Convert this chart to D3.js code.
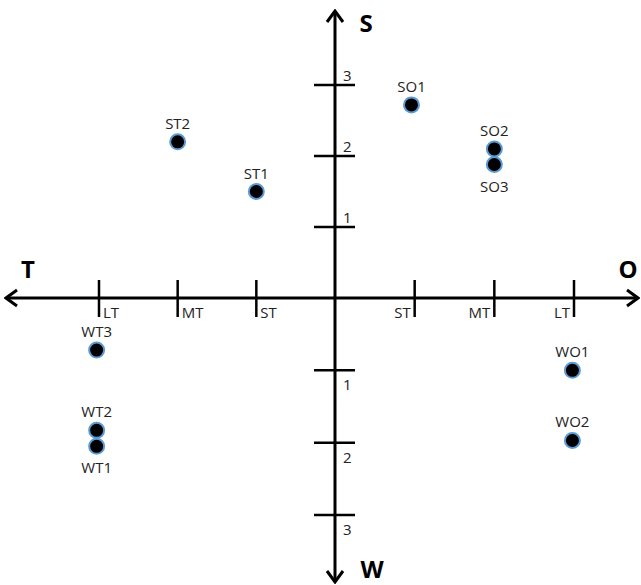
<!DOCTYPE html>
<html>
<head>
<meta charset="utf-8">
<script src="https://cdn.jsdelivr.net/npm/d3@7"></script>
<style>
  body { margin: 0; background: #fff; }
  svg text { font-family: "Open Sans", "Noto Sans", sans-serif; }
</style>
</head>
<body>
<script>
// point labels and their positions (x: T/O axis, y: S/W axis)
var labels = ["ST2", "ST1", "SO1", "SO2", "SO3", "WT3", "WT2", "WT1", "WO1", "WO2"];
var xVals  = [-2.0, -1.0, 0.96, 2.0, 2.0, -3.03, -3.03, -3.03, 2.98, 2.98];
var yVals  = [2.2, 1.5, 2.72, 2.1, 1.88, -0.72, -1.83, -2.05, -1.0, -1.97];
// which side the label sits on
var labelPos = ["above", "above", "above", "above", "below", "above", "above", "below", "above", "above"];

// axis ticks
var xTicks = [-3, -2, -1, 1, 2, 3];
var xTickLabels = ["LT", "MT", "ST", "ST", "MT", "LT"];
var yTicks = [3, 2, 1, -1, -2, -3];
var yTickLabels = ["3", "2", "1", "1", "2", "3"];

var width = 641, height = 585;

// the drawing is not quite symmetric, so use piecewise scales
var x = d3.scaleLinear().domain([-3, 0, 3]).range([99, 335, 574]);
var y = d3.scaleLinear().domain([-3, 0, 3]).range([515, 298, 85]);

var svg = d3.select("body").append("svg")
    .attr("width", width)
    .attr("height", height);

// arrow heads (open chevron)
svg.append("defs").append("marker")
    .attr("id", "arrow")
    .attr("viewBox", "0 0 16 20")
    .attr("refX", 14).attr("refY", 10)
    .attr("markerWidth", 16).attr("markerHeight", 20)
    .attr("markerUnits", "userSpaceOnUse")
    .attr("orient", "auto")
  .append("path")
    .attr("d", "M3,2 L14,10 L3,18")
    .attr("fill", "none")
    .attr("stroke", "#000")
    .attr("stroke-width", 3);

// horizontal axis, both directions
svg.append("line")
    .attr("x1", 335).attr("x2", 638)
    .attr("y1", y(0)).attr("y2", y(0))
    .attr("stroke", "#000").attr("stroke-width", 3)
    .attr("marker-end", "url(#arrow)");
svg.append("line")
    .attr("x1", 335).attr("x2", 6)
    .attr("y1", y(0)).attr("y2", y(0))
    .attr("stroke", "#000").attr("stroke-width", 3)
    .attr("marker-end", "url(#arrow)");

// vertical axis
svg.append("line")
    .attr("x1", x(0)).attr("x2", x(0))
    .attr("y1", y(0)).attr("y2", 11)
    .attr("stroke", "#000").attr("stroke-width", 3)
    .attr("marker-end", "url(#arrow)");
svg.append("line")
    .attr("x1", x(0)).attr("x2", x(0))
    .attr("y1", y(0)).attr("y2", 582)
    .attr("stroke", "#000").attr("stroke-width", 3)
    .attr("marker-end", "url(#arrow)");

// x ticks
svg.selectAll(".xtick")
    .data(xTicks)
  .enter().append("line")
    .attr("class", "xtick")
    .attr("x1", function(d) { return x(d); })
    .attr("x2", function(d) { return x(d); })
    .attr("y1", y(0) - 18).attr("y2", y(0) + 19)
    .attr("stroke", "#000").attr("stroke-width", 2.5);

svg.selectAll(".xlab")
    .data(xTicks)
  .enter().append("text")
    .attr("class", "xlab")
    .attr("x", function(d) { return d < 0 ? x(d) + 4 : x(d) - 4; })
    .attr("y", y(0) + 20)
    .attr("text-anchor", "start")
    .attr("text-anchor", function(d) { return d < 0 ? "start" : "end"; })
    .attr("font-size", 15)
    .attr("fill", "#222")
    .text(function(d, i) { return xTickLabels[i]; });

// y ticks
svg.selectAll(".ytick")
    .data(yTicks)
  .enter().append("line")
    .attr("class", "ytick")
    .attr("x1", x(0) - 21).attr("x2", x(0) + 20)
    .attr("y1", function(d) { return y(d); })
    .attr("y2", function(d) { return y(d); })
    .attr("stroke", "#000").attr("stroke-width", 2.5);

svg.selectAll(".ylab")
    .data(yTicks)
  .enter().append("text")
    .attr("class", "ylab")
    .attr("x", x(0) + 8)
    .attr("y", function(d) { return d > 0 ? y(d) - 4 : y(d) + 20; })
    .attr("font-size", 15)
    .attr("fill", "#222")
    .text(function(d, i) { return yTickLabels[i]; });

// axis end letters
var ends = [
  {t: "T", x: 28, y: 278},
  {t: "O", x: 628, y: 278},
  {t: "S", x: 366, y: 32},
  {t: "W", x: 372, y: 578}
];
svg.selectAll(".end")
    .data(ends)
  .enter().append("text")
    .attr("class", "end")
    .attr("x", function(d) { return d.x; })
    .attr("y", function(d) { return d.y; })
    .attr("text-anchor", "middle")
    .attr("font-size", 24)
    .attr("font-weight", "bold")
    .attr("font-family", "Liberation Sans, Arial, sans-serif")
    .text(function(d) { return d.t; });

// points
var pts = labels.map(function(l, i) {
  return {label: l, x: xVals[i], y: yVals[i], pos: labelPos[i]};
});

svg.selectAll(".dot")
    .data(pts)
  .enter().append("circle")
    .attr("class", "dot")
    .attr("cx", function(d) { return x(d.x); })
    .attr("cy", function(d) { return y(d.y); })
    .attr("r", 7.5)
    .attr("fill", "#000")
    .attr("stroke", "#5b9bd5")
    .attr("stroke-width", 2);

svg.selectAll(".plab")
    .data(pts)
  .enter().append("text")
    .attr("class", "plab")
    .attr("x", function(d) { return x(d.x); })
    .attr("y", function(d) { return d.pos == "above" ? y(d.y) - 13 : y(d.y) + 27; })
    .attr("text-anchor", "middle")
    .attr("font-size", 15)
    .attr("fill", "#222")
    .text(function(d) { return d.label; });
</script>
</body>
</html>
